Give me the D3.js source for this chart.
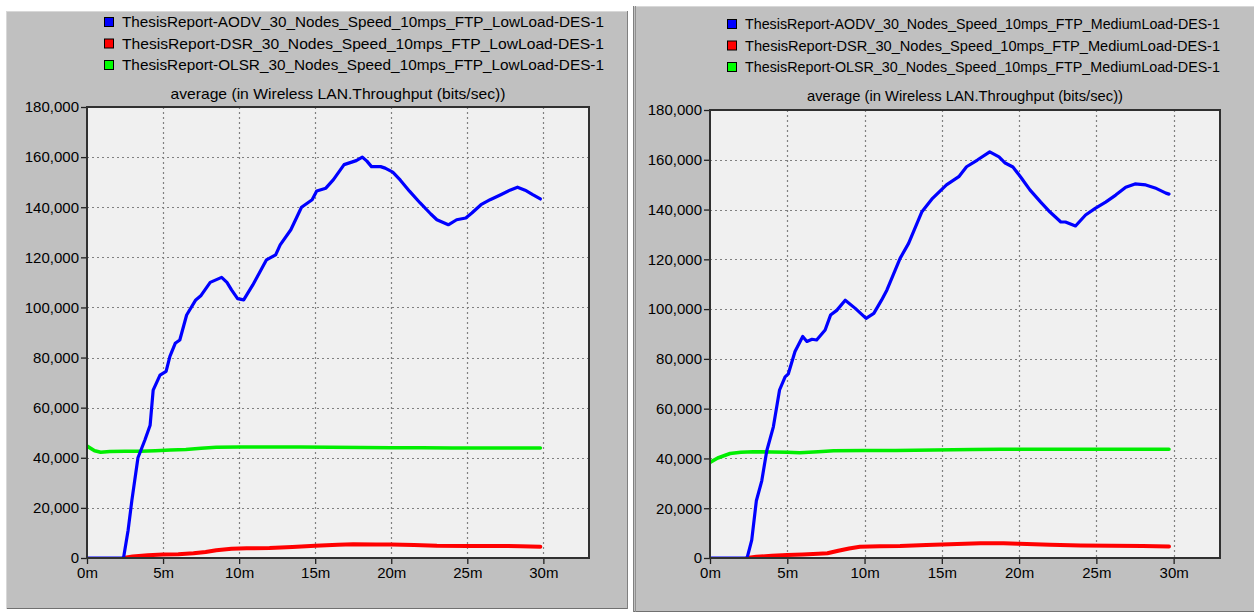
<!DOCTYPE html>
<html>
<head>
<meta charset="utf-8">
<script src="https://cdn.jsdelivr.net/npm/d3@7/dist/d3.min.js"></script>
<style>
  html, body { margin: 0; padding: 0; background: #ffffff; }
  svg { display: block; }
  text { font-family: "Liberation Sans", Arial, sans-serif; fill: #000; }
</style>
</head>
<body>
<svg id="chart" width="1254" height="614"></svg>
<script>
// ---- Data: simulation time (minutes) vs. average throughput (bits/sec) ----
const timeTicks = [0, 5, 10, 15, 20, 25, 30];
const timeTickLabels = ["0m", "5m", "10m", "15m", "20m", "25m", "30m"];
const throughputTicks = [0, 20000, 40000, 60000, 80000, 100000, 120000, 140000, 160000, 180000];
const chartTitle = "average (in Wireless LAN.Throughput (bits/sec))";

const lowLoadNames = [
  "ThesisReport-AODV_30_Nodes_Speed_10mps_FTP_LowLoad-DES-1",
  "ThesisReport-DSR_30_Nodes_Speed_10mps_FTP_LowLoad-DES-1",
  "ThesisReport-OLSR_30_Nodes_Speed_10mps_FTP_LowLoad-DES-1"
];
const mediumLoadNames = [
  "ThesisReport-AODV_30_Nodes_Speed_10mps_FTP_MediumLoad-DES-1",
  "ThesisReport-DSR_30_Nodes_Speed_10mps_FTP_MediumLoad-DES-1",
  "ThesisReport-OLSR_30_Nodes_Speed_10mps_FTP_MediumLoad-DES-1"
];

// Low load runs: [minute, bits/sec]
const aodvLow = [[0,0],[2.4,0],[2.7,11000],[2.95,23000],[3.35,40000],[3.8,47000],[4.15,53000],[4.35,67000],[4.8,73000],[5.2,74500],[5.45,80500],[5.8,85700],[6.1,87000],[6.55,97000],[7.15,103000],[7.5,104800],[8.1,110000],[8.85,112000],[9.2,110000],[9.5,107000],[9.9,103500],[10.3,103000],[10.6,106000],[10.9,109000],[11.8,119000],[12.4,121000],[12.7,125000],[13.4,131000],[14.1,140000],[14.8,143000],[15.1,146500],[15.7,147600],[16.2,151000],[16.9,157000],[17.7,158600],[18.1,160000],[18.4,158400],[18.7,156200],[19.3,156200],[19.6,155600],[20.1,154000],[20.6,150800],[21.2,146400],[21.9,141700],[22.6,137300],[23,135000],[23.75,133000],[24.3,135000],[24.9,135700],[25.3,137700],[25.9,141000],[26.5,143000],[27.2,145000],[27.8,146800],[28.3,148000],[28.8,146800],[29.3,145000],[29.8,143300]];
const dsrLow = [[2.4,0],[3,600],[4,1100],[5,1400],[6,1500],[7,1900],[7.8,2400],[8.5,3100],[9.5,3700],[10.5,3900],[12,4000],[13.5,4400],[15,4900],[16.5,5300],[17.5,5500],[19,5400],[20,5400],[21.5,5200],[23,4900],[25,4800],[27,4800],[28.5,4700],[29.8,4500]];
const olsrLow = [[0,44700],[0.5,42800],[0.9,42200],[1.5,42500],[2.5,42600],[3.5,42600],[4.5,42800],[5.5,43100],[6.5,43300],[7.5,43800],[8.5,44200],[10,44300],[12,44300],[14,44300],[16,44200],[18,44100],[20,44000],[22,44000],[24,43900],[26,43900],[28,43900],[29.8,43900]];

// Medium load runs: [minute, bits/sec]
const aodvMedium = [[0,0],[2.4,0],[2.7,7200],[3.0,23000],[3.35,31000],[3.67,43000],[4.1,52700],[4.5,67500],[4.86,72800],[5.07,74000],[5.5,83000],[6.0,89000],[6.27,87000],[6.6,87900],[6.9,87600],[7.45,91600],[7.8,97600],[8.2,99500],[8.75,103600],[9.4,100300],[10.1,96300],[10.6,98300],[11.1,103600],[11.45,107700],[12.3,120400],[12.85,126400],[13.7,139000],[14.4,144500],[15.3,149900],[16.1,153200],[16.6,157200],[17.3,159900],[18.1,163200],[18.7,161200],[19.1,158700],[19.6,157100],[20.1,153100],[20.7,147900],[21.4,143000],[22,139000],[22.7,135000],[23,135000],[23.65,133400],[24.3,137800],[24.95,140600],[25.6,143000],[26.25,145800],[26.9,149000],[27.5,150300],[28.2,149900],[28.8,148700],[29.5,146600],[29.7,146200]];
const dsrMedium = [[2.4,0],[3,500],[4,900],[5,1200],[6,1400],[7,1700],[7.6,1900],[8.3,2900],[9,3800],[9.7,4500],[11,4700],[12.3,4800],[14,5200],[16,5600],[17.5,5900],[19,5900],[20,5700],[22,5300],[24,5000],[26,4900],[28,4800],[29.7,4600]];
const olsrMedium = [[0,38400],[0.5,40200],[1.3,42000],[2,42500],[2.8,42700],[4,42600],[5,42500],[5.8,42300],[7,42700],[8,43100],[10,43200],[12,43200],[14.5,43400],[17,43600],[18.8,43700],[21,43700],[24,43700],[27,43700],[29.7,43700]];

const seriesColors = ["#0000ff", "#ff0000", "#00ee00"];
const seriesWidths = [3.2, 4, 3.6];

// ---- Layout of the two result windows ----
const panels = [
  {
    frame: { x: 6, y: 11, w: 622, h: 598 },
    plot: { left: 87, right: 589, top: 107, bottom: 558 },
    legend: { x: 104, y: 22, step: 21.5, width: 482 },
    titleY: 99, titleWidth: 335,
    names: lowLoadNames,
    series: [aodvLow, dsrLow, olsrLow]
  },
  {
    frame: { x: 633, y: 6, w: 621, h: 606 },
    plot: { left: 710, right: 1220, top: 110, bottom: 558 },
    legend: { x: 727, y: 24, step: 21.5, width: 475 },
    titleY: 101, titleWidth: 316,
    names: mediumLoadNames,
    series: [aodvMedium, dsrMedium, olsrMedium]
  }
];

const svg = d3.select("#chart");
const xMax = 33;

panels.forEach((p, pi) => {
  const g = svg.append("g");
  const f = p.frame;

  // window background
  g.append("rect").attr("x", f.x).attr("y", f.y).attr("width", f.w).attr("height", f.h)
    .attr("fill", "#c0c0c0");
  g.append("line").attr("x1", f.x).attr("x2", f.x + f.w).attr("y1", f.y + 0.5).attr("y2", f.y + 0.5)
    .attr("stroke", "#d8d8d8");
  g.append("line").attr("x1", f.x).attr("x2", f.x + f.w).attr("y1", f.y + f.h - 0.5).attr("y2", f.y + f.h - 0.5)
    .attr("stroke", "#707070");
  g.append("line").attr("x1", f.x + 0.5).attr("x2", f.x + 0.5).attr("y1", f.y).attr("y2", f.y + f.h)
    .attr("stroke", pi === 0 ? "#d8d8d8" : "#808080");
  if (pi === 0) {
    g.append("line").attr("x1", f.x + f.w - 0.5).attr("x2", f.x + f.w - 0.5).attr("y1", f.y).attr("y2", f.y + f.h)
      .attr("stroke", "#808080");
  } else {
    g.append("line").attr("x1", f.x + 2.5).attr("x2", f.x + 2.5).attr("y1", f.y).attr("y2", f.y + f.h)
      .attr("stroke", "#909090");
  }

  const x = d3.scaleLinear().domain([0, xMax]).range([p.plot.left, p.plot.right]);
  const y = d3.scaleLinear().domain([0, 180000]).range([p.plot.bottom, p.plot.top]);

  // legend
  const lg = g.append("g");
  p.names.forEach((name, i) => {
    const cy = p.legend.y + i * p.legend.step;
    lg.append("rect").attr("x", p.legend.x + 0.5).attr("y", cy - 4.5).attr("width", 9).attr("height", 9)
      .attr("fill", seriesColors[i] === "#00ee00" ? "#00ff00" : seriesColors[i])
      .attr("stroke", "#000").attr("stroke-width", 1);
    lg.append("text").attr("x", p.legend.x + 18).attr("y", cy + 5)
      .attr("font-size", 15)
      .attr("textLength", p.legend.width).attr("lengthAdjust", "spacingAndGlyphs")
      .text(name);
  });

  // title
  g.append("text").attr("x", (p.plot.left + p.plot.right) / 2 - 0).attr("y", p.titleY)
    .attr("text-anchor", "middle").attr("font-size", 15)
    .attr("textLength", p.titleWidth).attr("lengthAdjust", "spacingAndGlyphs")
    .text(chartTitle);

  // plot background
  g.append("rect").attr("x", p.plot.left).attr("y", p.plot.top)
    .attr("width", p.plot.right - p.plot.left).attr("height", p.plot.bottom - p.plot.top)
    .attr("fill", "#f0f0f0");

  // grid
  const grid = g.append("g").attr("stroke", "#808080").attr("stroke-width", 1.2)
    .attr("stroke-dasharray", "2,3");
  timeTicks.filter(t => t > 0).forEach(t => {
    grid.append("line").attr("x1", Math.round(x(t)) + 0.5).attr("x2", Math.round(x(t)) + 0.5)
      .attr("y1", p.plot.top).attr("y2", p.plot.bottom);
  });
  throughputTicks.filter(v => v > 0 && v < 180000).forEach(v => {
    grid.append("line").attr("y1", Math.round(y(v)) + 0.5).attr("y2", Math.round(y(v)) + 0.5)
      .attr("x1", p.plot.left).attr("x2", p.plot.right);
  });

  // axes
  const xAxis = d3.axisBottom(x).tickValues(timeTicks)
    .tickFormat((d, i) => timeTickLabels[i]).tickSize(6).tickPadding(3);
  const yAxis = d3.axisLeft(y).tickValues(throughputTicks)
    .tickFormat(d3.format(",")).tickSize(6).tickPadding(2);

  const xa = g.append("g").attr("transform", `translate(0,${p.plot.bottom})`).call(xAxis);
  const ya = g.append("g").attr("transform", `translate(${p.plot.left},0)`).call(yAxis);
  [xa, ya].forEach(a => {
    a.select(".domain").remove();
    a.selectAll("line").attr("stroke", "#202020").attr("stroke-width", 1.3);
    a.selectAll("text").attr("font-size", 15).attr("font-family", "Liberation Sans, Arial, sans-serif")
      .attr("fill", "#000");
  });

  // series lines
  const clipId = "clip" + pi;
  g.append("clipPath").attr("id", clipId).append("rect")
    .attr("x", p.plot.left).attr("y", p.plot.top - 3)
    .attr("width", p.plot.right - p.plot.left).attr("height", p.plot.bottom - p.plot.top + 3);

  const line = d3.line().x(d => x(d[0])).y(d => y(d[1])).curve(d3.curveLinear);
  const drawOrder = [2, 1, 0];
  drawOrder.forEach(i => {
    g.append("path").datum(p.series[i])
      .attr("clip-path", `url(#${clipId})`)
      .attr("fill", "none")
      .attr("stroke", seriesColors[i])
      .attr("stroke-width", seriesWidths[i])
      .attr("stroke-linejoin", "round")
      .attr("stroke-linecap", "round")
      .attr("d", line);
  });

  // plot frame
  g.append("rect").attr("x", p.plot.left).attr("y", p.plot.top)
    .attr("width", p.plot.right - p.plot.left).attr("height", p.plot.bottom - p.plot.top)
    .attr("fill", "none").attr("stroke", "#303030").attr("stroke-width", 2);
});
</script>
</body>
</html>
